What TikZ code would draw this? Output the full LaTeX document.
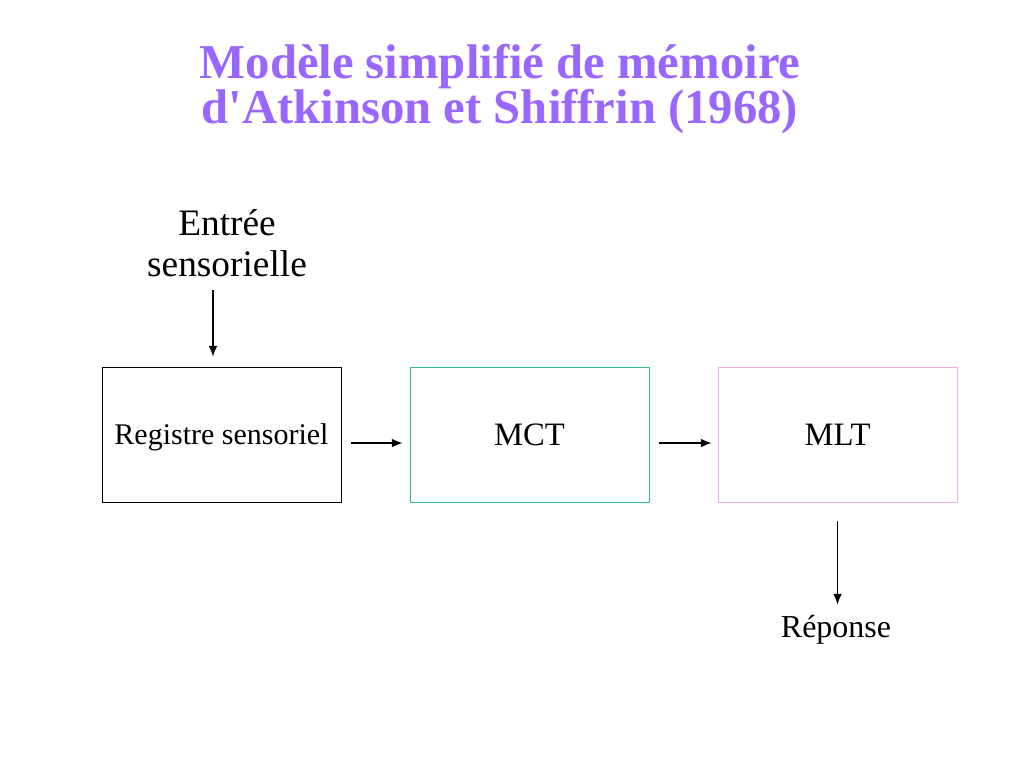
\documentclass[tikz,border=0pt]{standalone}
\usepackage{fontspec}
\setmainfont{Liberation Serif}
\usepackage{tikz}
\usepackage{xcolor}
\usetikzlibrary{arrows,arrows.meta,calc,positioning,shapes}
\definecolor{titlepurple}{RGB}{153,102,255}
\definecolor{mctgreen}{RGB}{51,187,153}
\definecolor{mltpink}{RGB}{245,170,235}
\tikzset{%
	titletext/.style = {font=\fontsize{36.5}{33.75}\selectfont\bfseries, text=titlepurple, align=center, inner sep=0pt},
	txt/.style       = {font=\fontsize{28}{30.75}\selectfont, align=center, inner sep=0pt},
	box/.style       = {draw, rectangle, line width=0.75pt, minimum width=179.25pt, minimum height=101.25pt, text centered, text depth=0pt},
	arrow/.style     = {line width=0.9pt,-{Latex[length=8pt,width=6.5pt]}},
}

\begin{document}
\begin{tikzpicture}[x=0.75pt,y=-0.75pt]
		\useasboundingbox (0,0) rectangle (1024,768);
		\node[titletext, anchor=base] (titre) at (500,123) {Modèle simplifié de mémoire\\d\textquotesingle Atkinson et Shiffrin (1968)};
		
		\node[box] (reg) at (221.5,434.5) {\fontsize{22.5}{24}\selectfont Registre sensoriel};
		\node[box, draw=mctgreen, right=51pt of reg] (mct) {\fontsize{24.5}{26}\selectfont MCT};
		\node[box, draw=mltpink, right=51pt of mct] (mlt) {\fontsize{24.5}{26}\selectfont MLT};
		
		\node[txt, anchor=base] (entree) at (227,276) {Entrée\\sensorielle};
		\node[txt, anchor=base, font=\fontsize{24}{26}\selectfont] (rep) at (836,637) {Réponse};
		
		\draw[arrow, shorten <=10pt, shorten >=7.5pt] ([xshift=-10.5pt]entree.south) -- ([xshift=-10.5pt]entree.south |- reg.north);
		\draw[arrow, shorten <=6.75pt, shorten >=5.25pt] ([yshift=-6.4pt]reg.east) -- ([yshift=-6.4pt]mct.west);
		\draw[arrow, shorten <=6.75pt, shorten >=4.5pt] ([yshift=-6.4pt]mct.east) -- ([yshift=-6.4pt]mlt.west);
		\draw[arrow, shorten <=13.5pt, shorten >=7.5pt] (mlt.south) -- (mlt.south |- rep.north);
	\end{tikzpicture}
\end{document}
